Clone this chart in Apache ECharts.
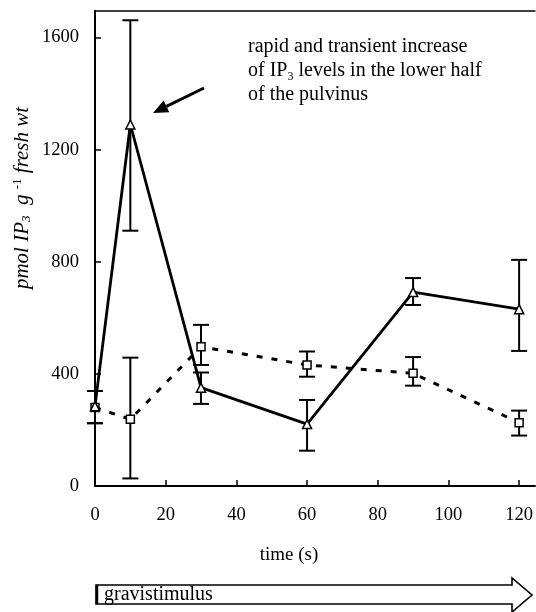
<!DOCTYPE html>
<html>
<head>
<meta charset="utf-8">
<script src="https://cdn.jsdelivr.net/npm/echarts@6/dist/echarts.min.js"></script>
<style>
html,body{margin:0;padding:0;background:#fff;}
#chart{width:536px;height:612px;}
</style>
</head>
<body>
<div id="chart"></div>
<script>
// ---- data ----
const times = [0, 10, 30, 60, 90, 120];
const lowerMean = [285, 1290, 351, 221, 692, 631];
const lowerLow  = [224, 911, 293, 126, 646, 482];
const lowerHigh = [339, 1662, 405, 307, 742, 807];
const upperMean = [280, 238, 497, 432, 402, 226];
const upperLow  = [224, 27, 432, 390, 358, 180];
const upperHigh = [339, 458, 575, 480, 460, 269];
const xTickInterval = 20;
const yTickInterval = 400;
const annotationLines = ['rapid and transient increase', 'of IP{sub|3} levels in the lower half', 'of the pulvinus'];
const xAxisTitle = 'time (s)';
const stimulusLabel = 'gravistimulus';

const serif = '"Liberation Serif", "Times New Roman", serif';

function pairs(xs, ys) { return xs.map((x, i) => [x, ys[i]]); }
function errData(xs, lo, hi) { return xs.map((x, i) => [x, lo[i], hi[i]]); }

function errorBarRender(params, api) {
  const x = api.value(0);
  const top = api.coord([x, api.value(2)]);
  const bot = api.coord([x, api.value(1)]);
  const hw = 8;
  const st = { stroke: '#000', lineWidth: 2 };
  return {
    type: 'group',
    children: [
      { type: 'line', shape: { x1: top[0], y1: top[1], x2: bot[0], y2: bot[1] }, style: st },
      { type: 'line', shape: { x1: top[0] - hw, y1: top[1], x2: top[0] + hw, y2: top[1] }, style: st },
      { type: 'line', shape: { x1: bot[0] - hw, y1: bot[1], x2: bot[0] + hw, y2: bot[1] }, style: st }
    ]
  };
}

const chart = echarts.init(document.getElementById('chart'), null, { renderer: 'canvas' });

// arrow geometry for annotation pointer
const tail = [204, 88], tip = [153, 113];
const dx = tip[0] - tail[0], dy = tip[1] - tail[1];
const len = Math.sqrt(dx * dx + dy * dy);
const ux = dx / len, uy = dy / len;
const hl = 15, hwid = 6.5;
const bx = tip[0] - ux * hl, by = tip[1] - uy * hl;
const px = -uy, py = ux;

chart.setOption({
  animation: false,
  backgroundColor: '#fff',
  grid: { left: 95, right: 0, top: 11, bottom: 126, show: false },
  xAxis: [{
    type: 'value', min: 0, max: 124.5, interval: xTickInterval,
    axisLine: { show: true, onZero: false, lineStyle: { color: '#000', width: 2 } },
    axisTick: { show: true, inside: true, length: 6, lineStyle: { color: '#000', width: 1.5 } },
    axisLabel: { color: '#000', fontFamily: serif, fontSize: 18.5, margin: 20, showMaxLabel: false, formatter: v => String(v) },
    splitLine: { show: false }
  }, {
    type: 'value', position: 'top', min: 0, max: 124.5,
    axisLine: { show: true, onZero: false, lineStyle: { color: '#000', width: 1.5 } },
    axisTick: { show: false }, axisLabel: { show: false }, splitLine: { show: false }
  }],
  yAxis: {
    type: 'value', min: 0, max: 1695, interval: yTickInterval,
    axisLine: { show: true, lineStyle: { color: '#000', width: 2 } },
    axisTick: { show: true, inside: true, length: 6, lineStyle: { color: '#000', width: 1.5 } },
    axisLabel: { color: '#000', fontFamily: serif, fontSize: 18.5, margin: 16, showMaxLabel: false, formatter: v => String(v) },
    splitLine: { show: false }
  },
  series: [
    { type: 'custom', renderItem: errorBarRender, data: errData(times, lowerLow, lowerHigh), clip: false, z: 1, encode: { x: 0, y: [1, 2] } },
    { type: 'custom', renderItem: errorBarRender, data: errData(times, upperLow, upperHigh), clip: false, z: 1, encode: { x: 0, y: [1, 2] } },
    {
      type: 'line', data: pairs(times, upperMean), z: 2, clip: false,
      symbol: 'rect', symbolSize: 8,
      lineStyle: { color: '#000', width: 3, type: [6, 9] },
      itemStyle: { color: '#fff', borderColor: '#000', borderWidth: 1.5 }
    },
    {
      type: 'line', data: pairs(times, lowerMean), z: 3, clip: false,
      symbol: 'triangle', symbolSize: 9,
      lineStyle: { color: '#000', width: 2.8 },
      itemStyle: { color: '#fff', borderColor: '#000', borderWidth: 1.5 }
    }
  ],
  graphic: [
    {
      type: 'text', x: 22, y: 198, rotation: Math.PI / 2,
      style: {
        text: '{i|pmol IP}{sub|3}{i|  g }{sup|-1}{i| fresh wt}',
        align: 'center', verticalAlign: 'middle', fill: '#000',
        rich: {
          i: { fontFamily: serif, fontStyle: 'italic', fontSize: 21, lineHeight: 22, verticalAlign: 'middle', fill: '#000' },
          sub: { fontFamily: serif, fontStyle: 'italic', fontSize: 13, lineHeight: 13, verticalAlign: 'bottom', fill: '#000' },
          sup: { fontFamily: serif, fontSize: 13, lineHeight: 15, verticalAlign: 'top', fill: '#000' }
        }
      }
    },
    {
      type: 'text', x: 248, y: 35,
      style: {
        text: annotationLines.join('\n'),
        fontFamily: serif, fontSize: 20, lineHeight: 24, fill: '#000',
        align: 'left', verticalAlign: 'top',
        rich: {
          sub: { fontFamily: serif, fontSize: 12, lineHeight: 24, verticalAlign: 'bottom', fill: '#000' }
        }
      }
    },
    { type: 'line', shape: { x1: tail[0], y1: tail[1], x2: bx, y2: by }, style: { stroke: '#000', lineWidth: 3 } },
    { type: 'polygon', shape: { points: [tip, [bx + px * hwid, by + py * hwid], [bx - px * hwid, by - py * hwid]] }, style: { fill: '#000' } },
    {
      type: 'text', x: 289, y: 555,
      style: { text: xAxisTitle, fontFamily: serif, fontSize: 19, fill: '#000', align: 'center', verticalAlign: 'middle' }
    },
    {
      type: 'polygon',
      shape: { points: [[96, 585], [512, 585], [512, 578], [532, 595], [512, 612], [512, 604], [96, 604]] },
      style: { fill: '#fff', stroke: '#000', lineWidth: 1.6 }
    },
    { type: 'line', shape: { x1: 97, y1: 585, x2: 97, y2: 604 }, style: { stroke: '#000', lineWidth: 2.5 } },
    {
      type: 'text', x: 104, y: 595,
      style: { text: stimulusLabel, fontFamily: serif, fontSize: 20, fill: '#000', align: 'left', verticalAlign: 'middle' }
    }
  ]
});
</script>
</body>
</html>
